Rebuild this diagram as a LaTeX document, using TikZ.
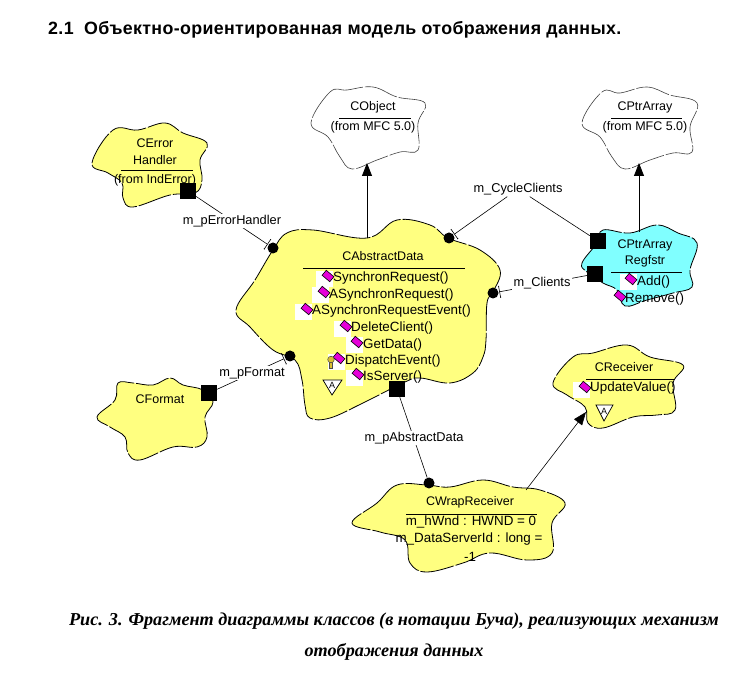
\documentclass[tikz,border=0pt]{standalone}
\usepackage{fontspec}
\setmainfont{Liberation Sans}
\newfontfamily\capfont{Liberation Serif}
\usetikzlibrary{arrows.meta,positioning}
\definecolor{BlobClr}{rgb}{1,1,0.5}
\definecolor{RegClr}{rgb}{0.5,1,1}
\definecolor{OpClr}{rgb}{0.9,0,0.85}
\definecolor{KeyClr}{rgb}{0.85,0.75,0.2}
\tikzset{
  blobline/.style={line width=.8pt,dash pattern=on 34pt off 2pt},
  blob/.style={blobline,fill=BlobClr},
  regblob/.style={blobline,fill=RegClr},
  mfcblob/.style={blobline,line width=.6pt,draw=black!75,fill=white},
  classtxt/.style={font=\fontsize{12.5}{14}\selectfont,inner sep=0pt,align=center},
  opertxt/.style={font=\fontsize{13.4}{15}\selectfont,inner sep=0pt,anchor=west},
  roletxt/.style={font=\fontsize{12.8}{15}\selectfont,fill=white,inner sep=1.5pt},
  captxt/.style={font=\capfont\bfseries\itshape\fontsize{18.2}{20}\selectfont,inner sep=0pt},
  whitebox/.style={fill=white,minimum width=17pt,minimum height=16pt,inner sep=0pt},
  opericon/.style={rectangle,draw=black,line width=.6pt,fill=OpClr,minimum width=10pt,minimum height=6.5pt,inner sep=0pt,rotate=-40},
  owner/.style={fill=black,minimum size=16pt,inner sep=0pt},
  client/.style={circle,fill=black,minimum size=11pt,inner sep=0pt},
  hasline/.style={line width=.6pt},
  usesline/.style={hasline,-{Bar[width=12pt,length=1pt]},shorten >=.5pt},
  isaline/.style={line width=.8pt,-{Triangle[width=10pt,length=13pt]}},
  sepline/.style={line width=.8pt},
  abstri/.style={draw=black,line width=.7pt,fill=white}
}

\begin{document}
\begin{tikzpicture}[x=1pt,y=-1pt]
\useasboundingbox (0,0) rectangle (745,684);

\node[font=\bfseries\fontsize{17.8}{20}\selectfont\addfontfeature{LetterSpace=2},anchor=west,inner sep=0pt] (Title) at (48,30)
  {2.1\ \ Объектно-ориентированная модель отображения данных.};

% clouds
\draw[mfcblob] plot[smooth cycle,tension=.65] coordinates {(311,123)(330,92)(347,90)(373,87)(397,97)(425,103)(418,123)(418,150)(400,152)(377,160)(352,169)(340,157)(328,137)};
\draw[mfcblob] plot[smooth cycle,tension=.65] coordinates {(582,123)(602,92)(620,93)(647,87)(670,95)(697,103)(690,127)(692,152)(673,153)(650,160)(625,169)(612,157)(600,137)};
\draw[blob] plot[smooth cycle,tension=.65] coordinates {(92,163)(113,130)(138,130)(165,123)(183,133)(207,143)(200,160)(202,180)(195,193)(170,195)(133,207)(123,198)(122,183)(108,173)};
\draw[regblob] plot[smooth cycle,tension=.65] coordinates {(582,263)(597,243)(603,230)(630,233)(657,225)(678,233)(697,243)(690,270)(692,287)(673,293)(647,300)(625,306)(617,290)(603,283)(587,272)};
\draw[blob] plot[smooth cycle,tension=.65] coordinates {(236,310)(255,280)(273,250)(287,233)(313,230)(367,238)(397,220)(430,225)(448,238)(480,250)(500,270)(493,292)(487,303)(486,340)(483,357)(473,373)(450,383)(420,378)(405,382)(363,403)(330,418)(310,418)(305,405)(302,380)(295,360)(273,350)(250,327)};
\draw[blob] plot[smooth cycle,tension=.65] coordinates {(97,417)(115,400)(118,383)(133,383)(153,385)(170,378)(183,385)(203,390)(213,402)(205,417)(207,437)(197,447)(173,447)(140,460)(128,453)(125,437)(110,427)};
\draw[blob] plot[smooth cycle,tension=.65] coordinates {(553,383)(573,357)(593,353)(627,345)(650,357)(683,365)(673,383)(675,410)(657,415)(633,417)(603,428)(588,423)(585,407)(567,395)};
\draw[blob] plot[smooth cycle,tension=.65] coordinates {(352,523)(377,503)(397,485)(427,485)(450,487)(483,480)(513,487)(540,490)(565,503)(552,523)(552,553)(527,560)(490,553)(463,563)(427,572)(410,563)(405,540)(380,532)};

% class texts
\node[classtxt] (CObject) at (373,107) {CObject};
\draw[sepline] (339,118) -- (411,118);
\node[classtxt] (CObjectFrom) at (373,127) {(from MFC 5.0)};
\node[classtxt] (CPtrArray) at (645,107) {CPtrArray};
\draw[sepline] (611,118) -- (682,118);
\node[classtxt] (CPtrArrayFrom) at (645,127) {(from MFC 5.0)};
\node[classtxt] (CError) at (155,143) {CError};
\node[classtxt] (CErrorB) at (155,160) {Handler};
\draw[sepline] (121,170) -- (193,170);
\node[classtxt] (CErrorFrom) at (155,180) {(from IndError)};
\node[classtxt] (CFormat) at (160,399) {CFormat};
\node[classtxt] (CReg) at (645,245) {CPtrArray};
\node[classtxt] (CRegB) at (645,261) {Regfstr};
\draw[sepline] (611,272) -- (682,272);
\node[classtxt] (CAbstract) at (383,256) {CAbstractData};
\draw[sepline] (303,268) -- (465,268);
\node[classtxt] (CReceiver) at (624,367) {CReceiver};
\draw[sepline] (586,379) -- (675,379);
\node[classtxt] (CWrap) at (470,502) {CWrapReceiver};
\draw[sepline] (406,514) -- (537,514);
\node[opertxt,anchor=center] (AttrA) at (471,522) {m\_hWnd : HWND = 0};
\node[opertxt,anchor=center] (AttrB) at (469,539) {m\_DataServerId : long =};
\node[opertxt,anchor=center] (AttrC) at (470,557) {-1};

% operations
\node[whitebox,anchor=east] (BoxSync) at (333,279) {};
\node[opertxt] (OpSync) at (333,278) {SynchronRequest()};
\node[opericon] (IcSync) at (328,276) {};
\node[whitebox,anchor=east] (BoxAsync) at (329,295) {};
\node[opertxt] (OpAsync) at (329,295) {ASynchronRequest()};
\node[opericon] (IcAsync) at (324,292) {};
\node[whitebox,anchor=east] (BoxEvent) at (312,312) {};
\node[opertxt] (OpEvent) at (312,311) {ASynchronRequestEvent()};
\node[opericon] (IcEvent) at (307,309) {};
\node[whitebox,anchor=east] (BoxDelete) at (351,329) {};
\node[opertxt] (OpDelete) at (351,328) {DeleteClient()};
\node[opericon] (IcDelete) at (346,326) {};
\node[whitebox,anchor=east] (BoxGet) at (363,345) {};
\node[opertxt] (OpGet) at (363,345) {GetData()};
\node[opericon] (IcGet) at (357,342) {};
\node[whitebox,anchor=east] (BoxDispatch) at (345,362) {};
\node[opertxt] (OpDispatch) at (345,361) {DispatchEvent()};
\node[opericon] (IcDispatch) at (339,358) {};
\draw[black!70,fill=KeyClr,line width=.5pt] (329.5,362) -- (329.5,368) -- (332.5,368) -- (332.5,362) -- cycle;
\draw[black!70,fill=KeyClr,line width=.5pt] (331,359.5) circle (3.3pt);
\node[whitebox,anchor=east] (BoxServer) at (363,378) {};
\node[opertxt] (OpServer) at (363,377) {IsServer()};
\node[opericon] (IcServer) at (358,374) {};
\node[whitebox,anchor=east] (BoxAdd) at (637,282) {};
\node[opertxt] (OpAdd) at (637,282) {Add()};
\node[opericon] (IcAdd) at (631,279) {};
\node[opertxt] (OpRemove) at (625,299) {Remove()};
\node[opericon] (IcRemove) at (620,296) {};
\node[whitebox,anchor=east] (BoxUpdate) at (590,390) {};
\node[opertxt] (OpUpdate) at (590,388) {UpdateValue()};
\node[opericon] (IcUpdate) at (585,387) {};

% abstract marks
\draw[abstri] (323,380) -- (342,380) -- (332,395) -- cycle;
\node[font=\fontsize{9}{10}\selectfont,inner sep=0pt] (AbsA) at (332,385) {A};
\draw[abstri] (596,405) -- (613,405) -- (604,421) -- cycle;
\node[font=\fontsize{9}{10}\selectfont,inner sep=0pt] (RecA) at (604,411) {A};

% has relations
\node[owner] (ownError) at (188,191) {};
\node[client] (useError) at (273,248) {};
\node[owner] (ownFormat) at (209,393) {};
\node[client] (useFormat) at (290,356) {};
\node[owner] (ownCycle) at (598,241) {};
\node[client] (useCycle) at (449,238) {};
\node[owner] (ownClients) at (595,274) {};
\node[client] (useClients) at (493,293) {};
\node[owner] (ownData) at (397,389) {};
\node[client] (useData) at (429,483) {};
\node[roletxt] (roleCycle) at (518,189) {m\_CycleClients};
\draw[usesline] (ownError) -- (useError);
\draw[usesline] (ownFormat) -- (useFormat);
\draw[usesline] (ownCycle) -- (roleCycle) -- (useCycle);
\draw[usesline] (ownClients) -- (useClients);
\draw[hasline] (ownData) -- (useData);
\node[roletxt] (roleError) at (232,221) {m\_pErrorHandler};
\node[roletxt] (roleFormat) at (252,373) {m\_pFormat};
\node[roletxt] (roleClients) at (542,283) {m\_Clients};
\node[roletxt] (roleData) at (414,438) {m\_pAbstractData};

% inheritance
\coordinate (isaData) at (367,238);
\coordinate (isaObject) at (367,163);
\coordinate (isaReg) at (639,232);
\coordinate (isaArray) at (639,163);
\coordinate (isaWrap) at (526,490);
\coordinate (isaRecv) at (586,412);
\draw[isaline] (isaData) -- (isaObject);
\draw[isaline] (isaReg) -- (isaArray);
\draw[isaline,line width=.6pt] (isaWrap) -- (isaRecv);

\node[captxt] (CapA) at (394,621)
  {Рис. 3. Фрагмент диаграммы классов (в нотации Буча), реализующих механизм};
\node[captxt] (CapB) at (394,652)
  {отображения данных};
\end{tikzpicture}
\end{document}
